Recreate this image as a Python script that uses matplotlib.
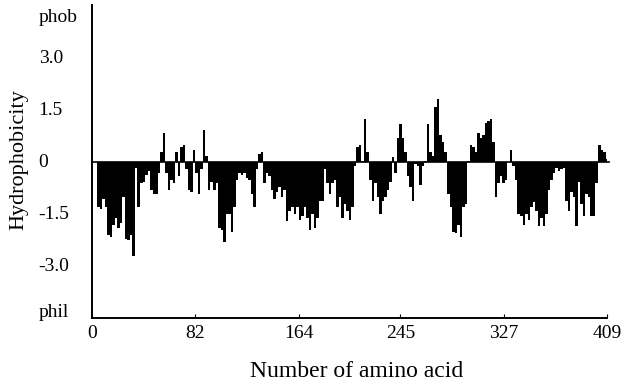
import numpy as np
import matplotlib
matplotlib.use("Agg")
import matplotlib.pyplot as plt
import matplotlib.transforms as mtransforms

# hydropathy value per pair of residues (positions 1, 3, 5, ... 409)
residue = np.arange(1, 410, 2)
hydro = [
    0.0, 0.0, -1.3, -1.35, -1.05, -1.3, -2.1, -2.15, -1.8, -1.6,
    -1.9, -1.75, -1.0, -2.2, -2.25, -2.1, -2.7, -0.15, -1.3, -0.6,
    -0.55, -0.35, -0.25, -0.8, -0.9, -0.9, -0.3, 0.3, 0.85, -0.3,
    -0.8, -0.5, -0.6, 0.3, -0.4, 0.45, 0.5, -0.2, -0.8, -0.85,
    0.35, -0.3, -0.9, -0.2, 0.95, 0.2, -0.8, -0.55, -0.8, -0.6,
    -1.9, -1.95, -2.3, -1.5, -1.5, -2.0, -1.3, -0.5, -0.3, -0.35,
    -0.3, -0.45, -0.5, -0.9, -1.3, -0.2, 0.25, 0.3, -0.6, -0.3,
    -0.4, -0.8, -1.05, -0.85, -0.7, -1.0, -0.8, -1.7, -1.4, -1.3,
    -1.5, -1.3, -1.65, -1.55, -1.3, -1.6, -1.95, -1.5, -1.9, -1.6,
    -1.1, -1.1, -0.2, -0.6, -0.9, -0.6, -0.5, -1.3, -1.0, -1.6,
    -1.2, -1.4, -1.65, -1.3, -0.1, 0.45, 0.5, 0.05, 1.25, 0.3,
    -0.5, -1.1, -0.6, -1.0, -1.5, -1.1, -1.0, -0.8, -0.55, 0.15,
    -0.3, 0.7, 1.1, 0.7, 0.3, -0.4, -0.7, -1.1, -0.05, -0.1,
    -0.65, -0.1, 0.05, 1.1, 0.3, 0.2, 1.6, 1.85, 0.8, 0.6,
    0.3, -0.9, -1.3, -2.0, -2.05, -1.8, -2.15, -1.3, -1.2, 0.05,
    0.5, 0.45, 0.3, 0.85, 0.7, 0.8, 1.15, 1.2, 1.25, 0.6,
    -1.0, -0.6, -0.4, -0.6, -0.5, 0.0, 0.35, -0.1, -0.5, -1.5,
    -1.55, -1.8, -1.5, -1.65, -1.3, -1.15, -1.4, -1.85, -1.6, -1.85,
    -1.5, -0.8, -0.5, -0.3, -0.15, -0.25, -0.2, -0.15, -1.1, -1.4,
    -0.85, -1.0, -1.85, -0.55, -1.2, -1.55, -0.9, -1.0, -1.55, -1.55,
    -0.6, 0.5, 0.35, 0.3, 0.1,
]

xticks = [0, 82, 164, 245, 327, 409]
yticks = [4.2, 3.0, 1.5, 0.0, -1.5, -3.0, -4.35]
ytick_labels = ["phob", "3.0", "1.5", "0", "-1.5", "-3.0", "phil"]

plt.rcParams["font.family"] = ["Liberation Serif", "DejaVu Serif"]

fig = plt.figure(figsize=(6.23, 3.89), dpi=100)
ax = fig.add_axes([0.148, 0.1825, 0.826, 0.804])

ax.bar(residue, hydro, width=2, color="black", linewidth=0)
ax.axhline(0, color="black", linewidth=1.2, xmax=1.005, clip_on=False)

ax.set_xlim(0, 409)
ax.set_ylim(-4.5, 4.55)
for side in ("top", "right"):
    ax.spines[side].set_visible(False)
ax.spines["left"].set_linewidth(1.4)
ax.spines["bottom"].set_linewidth(1.4)

ax.set_xticks(xticks)
ax.set_xticklabels([str(t) for t in xticks], fontsize=14)
ax.tick_params(axis="x", direction="in", length=3, pad=5)

# y labels sit left-aligned in a column, drawn as text
ax.set_yticks([])
trans = mtransforms.blended_transform_factory(fig.transFigure, ax.transData)
for val, lab in zip(yticks, ytick_labels):
    ax.text(0.062, val, lab, transform=trans, ha="left", va="center", fontsize=14)

fig.text(0.572, 0.045, "Number of amino acid", ha="center", va="center", fontsize=17)
fig.text(0.03, 0.59, "Hydrophobicity", ha="center", va="center", rotation=90, fontsize=16)

fig.savefig("out.png", dpi=100)
